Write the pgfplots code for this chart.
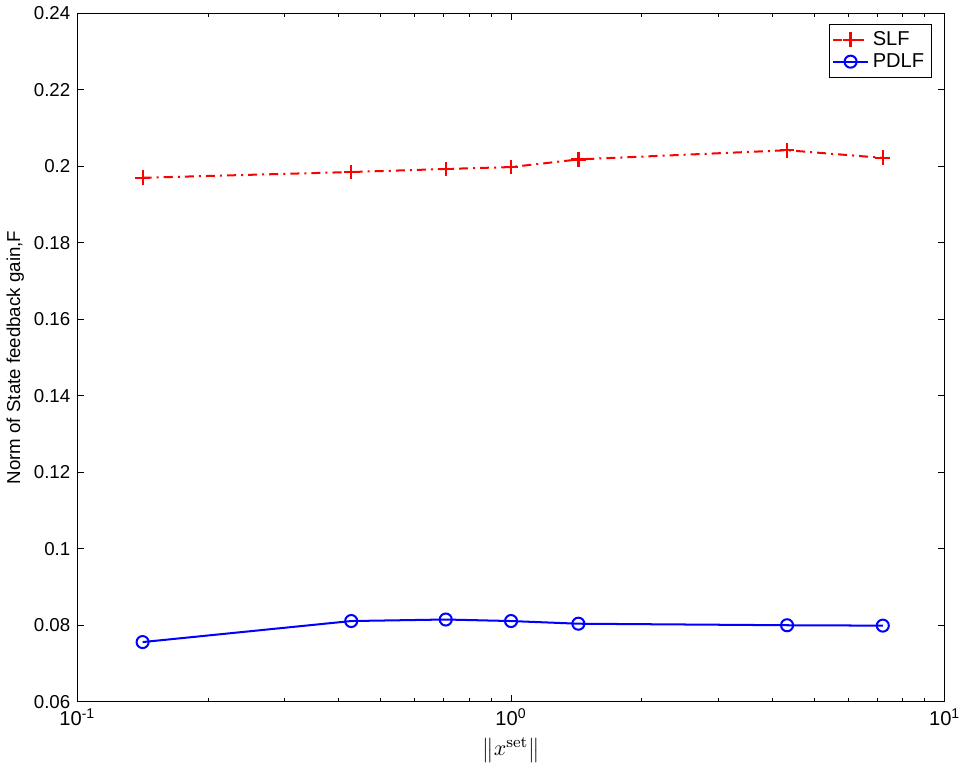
\documentclass[border=0pt]{standalone}
\usepackage{pgfplots}
\pgfplotsset{compat=1.18}
\usepackage[no-math]{fontspec}
\setmainfont{Liberation Sans}
\begin{document}
\begin{tikzpicture}
\begin{axis}[
  xmode=log,
  scale only axis,
  width=431.5pt, height=342.5pt,
  xmin=0.1, xmax=10,
  ymin=0.06, ymax=0.24,
  xtick={0.1,1,10},
  xticklabels={10\textsuperscript{-1},10\textsuperscript{0},10\textsuperscript{1}},
  ytick={0.06,0.08,0.1,0.12,0.14,0.16,0.18,0.2,0.22,0.24},
  scaled y ticks=false,
  yticklabel style={/pgf/number format/fixed,/pgf/number format/precision=2,/pgf/number format/assume math mode=true},
  tick label style={font=\fontsize{9.3}{11}\selectfont},
  xticklabel style={font=\fontsize{10}{12}\selectfont},
  tick align=inside,
  major tick length=3.5pt,
  minor tick length=2pt,
  axis line style={line width=0.5pt},
  every tick/.style={black, line width=0.4pt},
  xlabel={$\left\| x^{\mathrm{set}} \right\|$},
  ylabel={Norm of State feedback gain,F},
  ylabel style={font=\fontsize{9.3}{11}\selectfont, yshift=-2pt},
  xlabel style={font=\fontsize{11}{13}\selectfont, yshift=1pt},
  legend style={at={(0.985,0.985)}, anchor=north east, font=\fontsize{10}{12}\selectfont, draw=black, line width=0.5pt, inner sep=1.5pt, row sep=-1.5pt, cells={anchor=west}},
  legend cell align=left,
]
\addplot[red, line width=1pt, dash pattern=on 4.5pt off 2.5pt on 1pt off 2.5pt, mark=+, mark size=3.7pt, mark options={solid, line width=1.1pt}]
  coordinates {(0.1414,0.1970) (0.428,0.1985) (0.7071,0.1993) (1.0,0.1998) (1.43,0.2018) (4.33,0.2042) (7.2,0.2022)};
\addlegendentry{SLF}
\addplot[blue, line width=1pt, mark=o, mark size=3pt, mark options={solid, line width=1pt}]
  coordinates {(0.1414,0.0756) (0.428,0.0811) (0.7071,0.0815) (1.0,0.0811) (1.43,0.0804) (4.33,0.0800) (7.2,0.0799)};
\addlegendentry{PDLF}
\end{axis}
\end{tikzpicture}
\end{document}
